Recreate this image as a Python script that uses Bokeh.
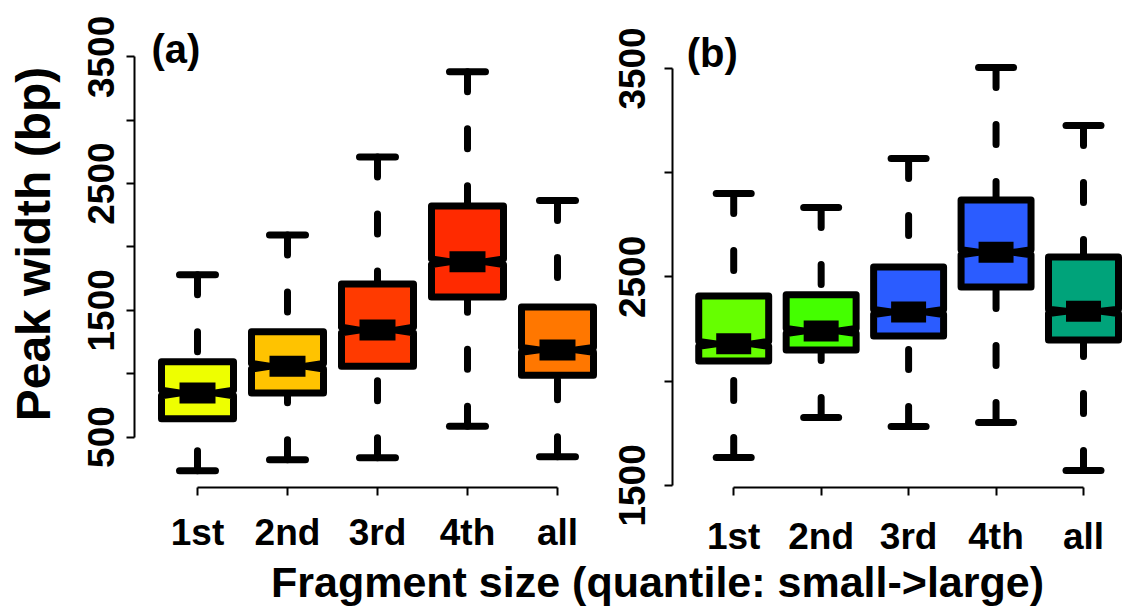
from bokeh.plotting import figure
from bokeh.layouts import row, column
from bokeh.models import Range1d, FixedTicker
from bokeh.embed import file_html
from bokeh.resources import INLINE
from bokeh.core.properties import value

FONT = "Liberation Sans"

categories = ["1st", "2nd", "3rd", "4th", "all"]

# Panel (a): peak width per fragment-size quantile
a_low = [234, 320, 336, 586, 344]
a_q1 = [645, 848, 1059, 1605, 988]
a_med = [848, 1059, 1344, 1883, 1188]
a_q3 = [1094, 1332, 1707, 2324, 1527]
a_high = [1781, 2094, 2711, 3383, 2367]
a_notch_lo = [826, 1037, 1322, 1861, 1170]
a_notch_hi = [870, 1081, 1366, 1905, 1206]
a_colors = ["#EEFF00", "#FFC300", "#FF3A00", "#FF2A00", "#FF7700"]
a_yticks = [500, 1000, 1500, 2000, 2500, 3000, 3500]
a_ylabels = ["500", "", "1500", "", "2500", "", "3500"]

# Panel (b)
b_low = [1634, 1826, 1783, 1802, 1572]
b_q1 = [2097, 2150, 2217, 2452, 2198]
b_med = [2179, 2241, 2332, 2618, 2335]
b_q3 = [2409, 2414, 2548, 2869, 2596]
b_high = [2900, 2833, 3068, 3505, 3227]
b_notch_lo = [2167, 2229, 2320, 2606, 2325]
b_notch_hi = [2191, 2253, 2344, 2630, 2345]
b_colors = ["#66FF00", "#44FF00", "#2B5CFF", "#2B5CFF", "#00A37A"]
b_yticks = [1500, 2000, 2500, 3000, 3500]
b_ylabels = ["1500", "", "2500", "", "3500"]

BOX_HALF = 0.4
LW = 7


def boxpanel(width, height, left, bottom, xr, yr, low, q1, med, q3, high,
             nlo, nhi, colors, yticks, ylabels, tag, tag_xy,
             ystand, xstand, ylab=None):
    p = figure(width=width, height=height, x_range=Range1d(*xr), y_range=Range1d(*yr),
               output_backend="svg", toolbar_location=None,
               min_border_left=left, min_border_right=0, min_border_top=0,
               min_border_bottom=bottom)
    p.outline_line_color = None
    p.grid.visible = False

    xs = list(range(1, len(categories) + 1))
    w = BOX_HALF
    s = BOX_HALF / 2

    # dashed whiskers, drawn from the whisker ends towards the box
    p.segment(x0=xs, y0=high, x1=xs, y1=q3, line_color="black", line_width=LW,
              line_dash="20 37", line_cap="round")
    p.segment(x0=xs, y0=low, x1=xs, y1=q1, line_color="black", line_width=LW,
              line_dash="20 37", line_cap="round")
    # staples
    for ends in (low, high):
        p.segment(x0=[x - s for x in xs], y0=ends, x1=[x + s for x in xs], y1=ends,
                  line_color="black", line_width=LW, line_cap="round")

    # notched boxes
    pxs, pys = [], []
    for x, a, cl, m, ch, b in zip(xs, q1, nlo, med, nhi, q3):
        pxs.append([x - w, x + w, x + w, x + w / 2, x + w, x + w, x - w, x - w, x - w / 2, x - w])
        pys.append([a, a, cl, m, ch, b, b, ch, m, cl])
    p.patches(xs=pxs, ys=pys, fill_color=colors, line_color="black", line_width=LW,
              line_join="round")

    # medians
    p.segment(x0=[x - w / 2 for x in xs], y0=med, x1=[x + w / 2 for x in xs], y1=med,
              line_color="black", line_width=3 * LW, line_cap="butt")

    p.text(x=[tag_xy[0]], y=[tag_xy[1]], text=[tag], text_font=value(FONT),
           text_font_size="40px", text_font_style="bold", text_color="black",
           text_align="left", text_baseline="alphabetic")

    for ax in (p.xaxis[0], p.yaxis[0]):
        ax.axis_line_width = 2
        ax.axis_line_color = "black"
        ax.major_tick_line_width = 2
        ax.major_tick_line_color = "black"
        ax.major_tick_out = 8
        ax.major_tick_in = 0
        ax.minor_tick_out = 0
        ax.minor_tick_in = 0
        ax.major_label_text_font = FONT
        ax.major_label_text_font_size = "37px"
        ax.major_label_text_font_style = "bold"
        ax.major_label_text_color = "black"

    p.xaxis.ticker = FixedTicker(ticks=xs)
    p.xaxis.major_label_overrides = {x: c for x, c in zip(xs, categories)}
    p.xaxis.bounds = (xs[0], xs[-1])
    p.xaxis.major_label_standoff = xstand

    p.yaxis.ticker = FixedTicker(ticks=yticks)
    p.yaxis.major_label_overrides = {t: l for t, l in zip(yticks, ylabels)}
    p.yaxis.bounds = (yticks[0], yticks[-1])
    p.yaxis.major_label_orientation = "vertical"
    p.yaxis.major_label_standoff = ystand
    if ylab:
        p.yaxis.axis_label = ylab
        p.yaxis.axis_label_text_font = FONT
        p.yaxis.axis_label_text_font_size = "48px"
        p.yaxis.axis_label_text_font_style = "bold"
        p.yaxis.axis_label_text_color = "black"
        p.yaxis.axis_label_standoff = 26
    return p


pa = boxpanel(600, 566, 134, 74, (0.3, 5.478), (102, 3945),
              a_low, a_q1, a_med, a_q3, a_high, a_notch_lo, a_notch_hi, a_colors,
              a_yticks, a_ylabels, "(a)", (0.489, 3563), 12, 16, ylab="Peak width (bp)")

pb = boxpanel(538, 566, 72, 79, (0.3, 5.629), (1490, 3826),
              b_low, b_q1, b_med, b_q3, b_high, b_notch_lo, b_notch_hi, b_colors,
              b_yticks, b_ylabels, "(b)", (0.463, 3576), 19, 20)

# shared x-axis title underneath both panels (transparent strip, tucked up
# under the tick labels so the title has room for its full line height)
pt = figure(width=1138, height=74, x_range=Range1d(0, 1138), y_range=Range1d(0, 74),
            output_backend="svg", toolbar_location=None, min_border=0,
            x_axis_type=None, y_axis_type=None)
pt.outline_line_color = None
pt.grid.visible = False
pt.background_fill_color = None
pt.border_fill_color = None
pt.margin = (-26, 0, 0, 0)
pt.text(x=[657], y=[33], text=["Fragment size (quantile: small->large)"],
        text_font=value(FONT), text_font_size="43px", text_font_style="bold",
        text_color="black", text_align="center", text_baseline="alphabetic")

layout = column(row(pa, pb), pt)
open("out.html", "w").write(file_html(layout, INLINE))
